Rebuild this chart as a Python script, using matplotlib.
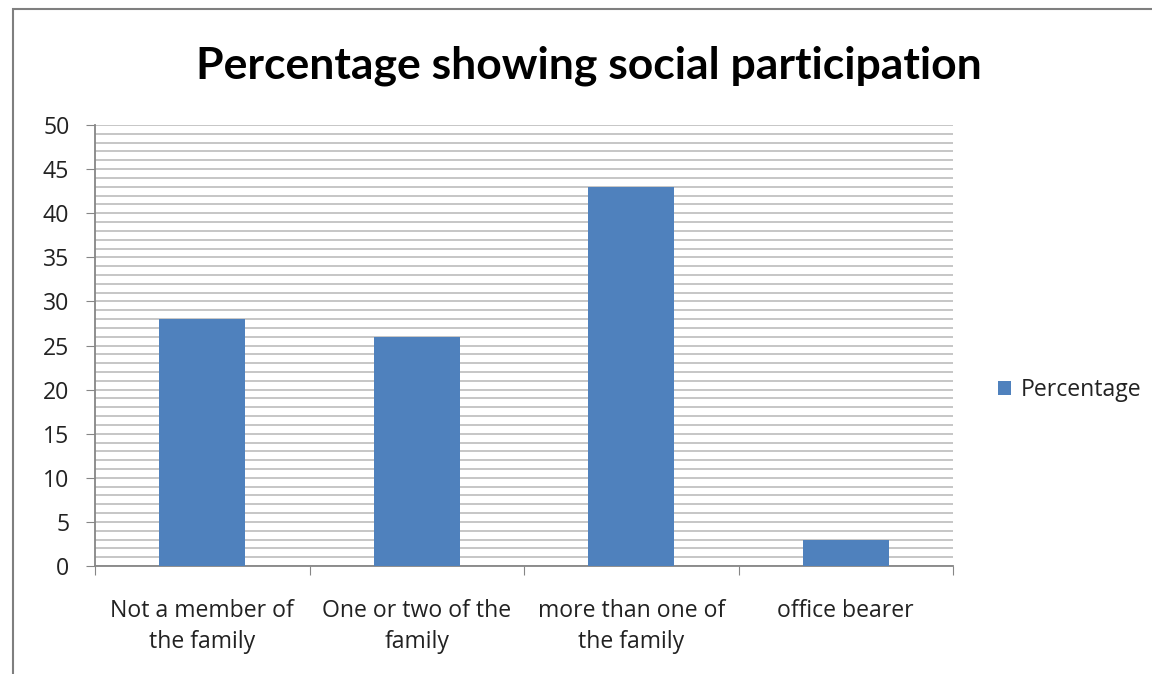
# Column chart of social participation percentages
import matplotlib.pyplot as plt
from matplotlib.patches import Rectangle
from matplotlib.ticker import MultipleLocator

# Data
categories = ["Not a member of\nthe family", "One or two of the\nfamily",
              "more than one of\nthe family", "office bearer"]
percentages = [28, 26, 43, 3]
series_name = "Percentage"
chart_title = "Percentage showing social participation"

BAR_COLOR = '#4f81bd'
GRID_COLOR = '#c6c6c6'
AXIS_COLOR = '#868686'
TEXT_COLOR = '#222222'
FS = 16.6

plt.rcParams['font.family'] = ['Open Sans', 'DejaVu Sans']

fig = plt.figure(figsize=(11.52, 6.74), dpi=100)
ax = fig.add_axes([0.0825, 0.1602, 0.7448, 0.6543])

x = list(range(len(categories)))
ax.bar(x, percentages, width=0.4, color=BAR_COLOR, label=series_name, zorder=3)

ax.set_xlim(-0.5, len(categories) - 0.5)
ax.set_ylim(0, 50)

# Major ticks every 5, gridlines every 1
ax.yaxis.set_major_locator(MultipleLocator(5))
ax.yaxis.set_minor_locator(MultipleLocator(1))
ax.grid(axis='y', which='both', color=GRID_COLOR, linewidth=1.4, zorder=0)
ax.tick_params(axis='y', which='major', direction='out', length=6.5,
               color=AXIS_COLOR, labelsize=FS, pad=12, labelcolor=TEXT_COLOR)
ax.tick_params(axis='y', which='minor', length=0)

# Category labels sit between the boundary ticks
ax.set_xticks([i - 0.5 for i in range(len(categories) + 1)])
ax.set_xticklabels([])
ax.set_xticks(x, minor=True)
ax.set_xticklabels(categories, minor=True, fontsize=FS, color=TEXT_COLOR,
                   linespacing=1.4)
ax.tick_params(axis='x', which='major', direction='out', length=6.5,
               color=AXIS_COLOR)
ax.tick_params(axis='x', which='minor', length=0, pad=23.5)

for side in ['top', 'right']:
    ax.spines[side].set_visible(False)
for side in ['left', 'bottom']:
    ax.spines[side].set_color(AXIS_COLOR)
    ax.spines[side].set_linewidth(1.3)

fig.text(0.511, 0.903, chart_title, ha='center', va='center',
         fontsize=32, fontweight='bold', color='black', family='Lato')

fig.legend(loc='center left', bbox_to_anchor=(0.848, 0.421), frameon=False,
           fontsize=FS, handlelength=0.6, handleheight=0.6,
           handletextpad=0.4, labelcolor=TEXT_COLOR)

# Outer chart border
fig.patches.append(Rectangle((0.0113, -0.01), 1.2, 0.996,
                             transform=fig.transFigure, fill=False,
                             edgecolor='#7f7f7f', linewidth=1.5))

fig.savefig('out.png', dpi=100, facecolor='white')
